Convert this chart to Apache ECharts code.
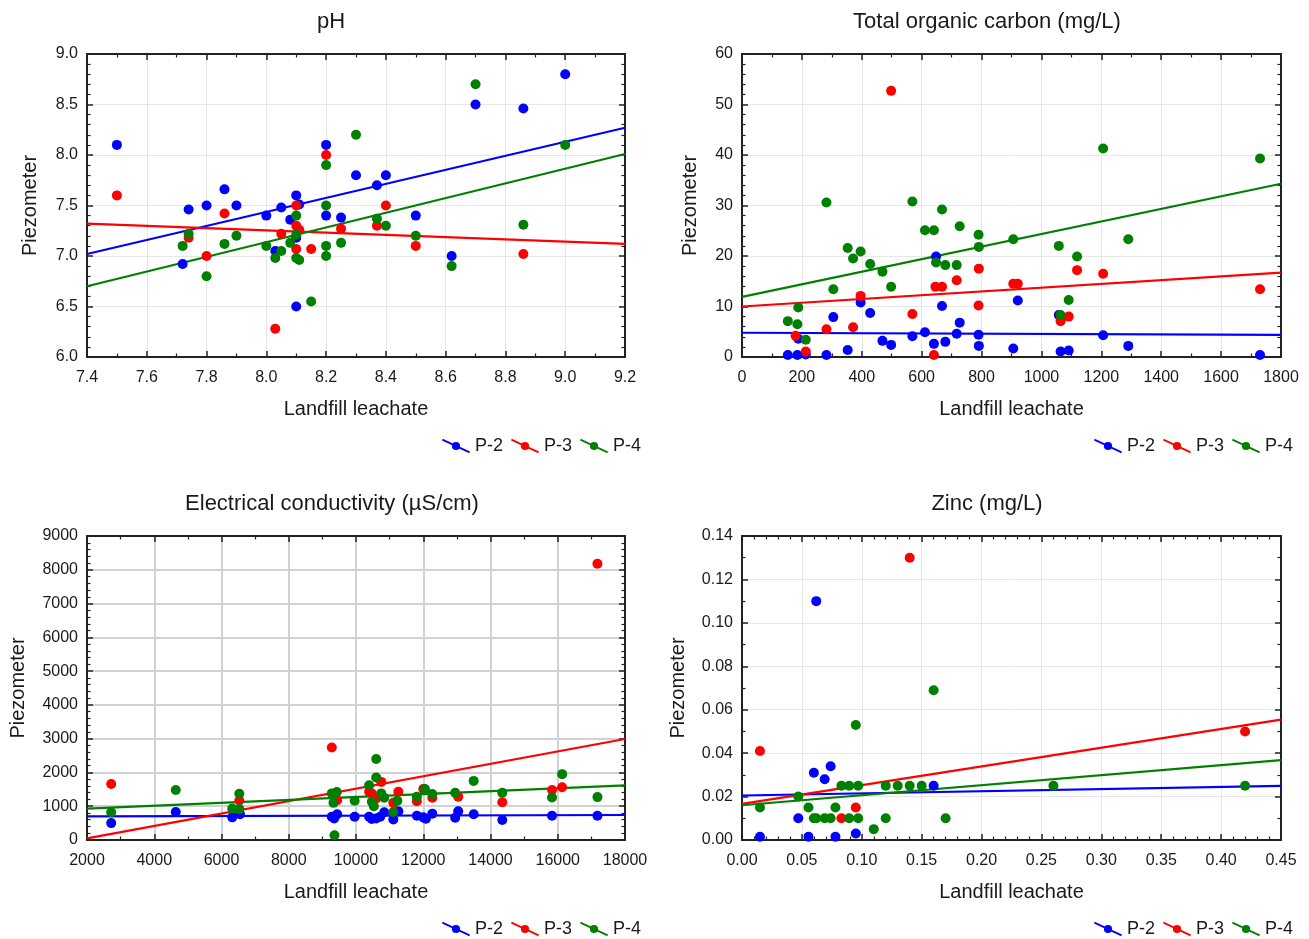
<!DOCTYPE html>
<html><head><meta charset="utf-8">
<script src="https://cdn.jsdelivr.net/npm/echarts@6/dist/echarts.min.js"></script>
<style>html,body{margin:0;padding:0;background:#fff}#c{width:1309px;height:939px}</style>
</head><body><div id="c"></div>
<script>
// ---------- DATA ----------
const seriesNames = ['P-2', 'P-3', 'P-4'];
const titles = ['pH', 'Total organic carbon (mg/L)', 'Electrical conductivity (µS/cm)', 'Zinc (mg/L)'];
const xName = 'Landfill leachate';
const yName = 'Piezometer';

const phP2 = [[7.5,8.1],[7.72,6.92],[7.74,7.46],[7.8,7.5],[7.86,7.66],[7.9,7.5],[8.0,7.4],[8.03,7.05],[8.05,7.48],[8.08,7.36],[8.1,7.6],[8.11,7.51],[8.1,7.18],[8.1,6.5],[8.2,8.1],[8.2,7.4],[8.25,7.38],[8.3,7.8],[8.37,7.7],[8.4,7.8],[8.5,7.4],[8.62,7.0],[8.7,8.5],[8.86,8.46],[9.0,8.8]];
const phP3 = [[7.5,7.6],[7.74,7.18],[7.8,7.0],[7.86,7.42],[8.03,6.28],[8.05,7.22],[8.1,7.5],[8.1,7.3],[8.11,7.26],[8.1,7.07],[8.15,7.07],[8.2,8.0],[8.25,7.27],[8.37,7.3],[8.4,7.5],[8.5,7.1],[8.86,7.02]];
const phP4 = [[7.72,7.1],[7.74,7.22],[7.8,6.8],[7.86,7.12],[7.9,7.2],[8.0,7.1],[8.03,6.98],[8.05,7.05],[8.08,7.13],[8.1,7.4],[8.1,7.21],[8.1,6.98],[8.11,6.96],[8.15,6.55],[8.2,7.9],[8.2,7.5],[8.2,7.1],[8.2,7.0],[8.25,7.13],[8.3,8.2],[8.37,7.37],[8.4,7.3],[8.5,7.2],[8.62,6.9],[8.7,8.7],[8.86,7.31],[9.0,8.1]];
const phFitP2 = [[7.4,7.02],[9.2,8.27]];
const phFitP3 = [[7.4,7.32],[9.2,7.12]];
const phFitP4 = [[7.4,6.70],[9.2,8.01]];

const tocP2 = [[153,0.4],[185,0.4],[213,0.5],[188,3.6],[282,0.4],[305,7.9],[353,1.4],[396,10.8],[428,8.7],[469,3.2],[498,2.4],[569,4.1],[611,4.9],[641,2.6],[648,19.9],[668,10.1],[679,3.0],[717,4.6],[727,6.8],[790,4.4],[791,2.2],[906,1.7],[921,11.2],[1058,8.3],[1064,1.1],[1091,1.3],[1206,4.3],[1290,2.2],[1730,0.4]];
const tocP3 = [[179,4.2],[213,1.1],[282,5.5],[371,5.9],[396,12.1],[498,52.7],[569,8.5],[641,0.4],[646,13.9],[668,13.9],[717,15.2],[790,10.2],[791,17.5],[906,14.5],[921,14.5],[1064,7.1],[1091,8.0],[1119,17.2],[1206,16.5],[1730,13.4]];
const tocP4 = [[153,7.1],[185,6.5],[188,9.8],[213,3.4],[282,30.6],[305,13.4],[353,21.6],[371,19.5],[396,20.9],[428,18.4],[469,16.9],[498,13.9],[569,30.8],[611,25.1],[641,25.1],[648,18.7],[668,29.2],[679,18.2],[717,18.2],[727,25.9],[790,24.2],[791,21.8],[906,23.3],[1058,22.0],[1064,8.3],[1091,11.3],[1119,19.9],[1206,41.3],[1290,23.3],[1730,39.3]];
const tocFitP2 = [[0,4.8],[1800,4.4]];
const tocFitP3 = [[0,10.0],[1800,16.7]];
const tocFitP4 = [[0,11.9],[1800,34.3]];

const ecP2 = [[2720,500],[4640,830],[6320,670],[6550,760],[9280,690],[9350,640],[9440,760],[9960,690],[10390,690],[10470,620],[10600,640],[10720,690],[10840,820],[11110,610],[11260,850],[11810,720],[12000,670],[12080,630],[12270,780],[12950,660],[13040,850],[13500,760],[14350,590],[15830,720],[17180,720]];
const ecP3 = [[2720,1660],[6530,1170],[9280,2740],[9440,1180],[10390,1430],[10470,1380],[10600,1230],[10750,1720],[11110,1100],[11260,1430],[11810,1150],[12000,1510],[12270,1250],[13040,1280],[14350,1120],[15830,1480],[16130,1560],[17180,8180]];
const ecP4 = [[2720,820],[4640,1480],[6320,930],[6530,1370],[6530,920],[9280,1380],[9430,1420],[9330,1100],[9360,140],[9960,1160],[10390,1620],[10470,1130],[10530,1000],[10600,2400],[10600,1850],[10750,1380],[10840,1250],[11110,830],[11230,1160],[11810,1280],[12050,1510],[12270,1360],[12950,1400],[13500,1750],[14350,1400],[15830,1260],[16130,1950],[17180,1270]];
const ecFitP2 = [[2000,700],[18000,740]];
const ecFitP3 = [[2000,50],[18000,2990]];
const ecFitP4 = [[2000,930],[18000,1620]];

const znP2 = [[0.015,0.0015],[0.047,0.01],[0.0555,0.0015],[0.060,0.031],[0.062,0.11],[0.069,0.028],[0.074,0.034],[0.078,0.0015],[0.095,0.003],[0.16,0.025]];
const znP3 = [[0.015,0.041],[0.083,0.01],[0.095,0.015],[0.14,0.13],[0.42,0.05]];
const znP4 = [[0.015,0.015],[0.047,0.02],[0.0555,0.015],[0.060,0.01],[0.062,0.01],[0.069,0.01],[0.074,0.01],[0.078,0.015],[0.083,0.025],[0.0895,0.025],[0.0895,0.01],[0.097,0.025],[0.097,0.01],[0.095,0.053],[0.110,0.005],[0.120,0.025],[0.120,0.01],[0.130,0.025],[0.140,0.025],[0.150,0.025],[0.160,0.069],[0.170,0.01],[0.260,0.025],[0.42,0.025]];
const znFitP2 = [[0,0.0205],[0.45,0.0249]];
const znFitP3 = [[0,0.0166],[0.45,0.0554]];
const znFitP4 = [[0,0.016],[0.45,0.0368]];

// ---------- LAYOUT / STYLE ----------
const COLORS = ['#0000ff', '#ff0000', '#008000'];
const FONT = "'Liberation Sans', Arial, sans-serif";
const TXT = '#1a1a1a';

const panels = [
  {grid:{left:87, top:54, width:538, height:303}, title:{x:326, y:6},
   x:{min:7.4, max:9.2, interval:0.2, minor:2, dec:1}, y:{min:6, max:9, interval:0.5, minor:5, dec:1},
   yGap:47, legend:{left:437, top:432}, grid2:false,
   pts:[phP2, phP3, phP4], fits:[phFitP2, phFitP3, phFitP4]},
  {grid:{left:742, top:54, width:539, height:303}, title:{x:982, y:6},
   x:{min:0, max:1800, interval:200, minor:2, dec:0}, y:{min:0, max:60, interval:10, minor:5, dec:0},
   yGap:42, legend:{left:1089, top:432}, grid2:false,
   pts:[tocP2, tocP3, tocP4], fits:[tocFitP2, tocFitP3, tocFitP4]},
  {grid:{left:87, top:536, width:538, height:304}, title:{x:327, y:488},
   x:{min:2000, max:18000, interval:2000, minor:2, dec:0}, y:{min:0, max:9000, interval:1000, minor:5, dec:0},
   yGap:59, legend:{left:437, top:915}, grid2:true,
   pts:[ecP2, ecP3, ecP4], fits:[ecFitP2, ecFitP3, ecFitP4]},
  {grid:{left:742, top:536, width:539, height:304}, title:{x:982, y:488},
   x:{min:0, max:0.45, interval:0.05, minor:5, dec:2}, y:{min:0, max:0.14, interval:0.02, minor:2, dec:2},
   yGap:54, legend:{left:1089, top:915}, grid2:false,
   pts:[znP2, znP3, znP4], fits:[znFitP2, znFitP3, znFitP4]}
];

const LEGEND_ICON = 'path://M0.38,-0.32 L28.38,12.68 L27.62,14.32 L-0.38,1.32 Z M9.8,7 A4.2,4.2 0 1 1 18.2,7 A4.2,4.2 0 1 1 9.8,7 Z';

const option = {
  backgroundColor: '#fff',
  animation: false,
  textStyle: {fontFamily: FONT, color: TXT},
  title: [], grid: [], xAxis: [], yAxis: [], legend: [], series: []
};

function axisBase(a, gi, pos, main, split, isY, nameGap) {
  const ax = {
    type: 'value', gridIndex: gi, position: pos,
    min: a.min, max: a.max, interval: a.interval,
    axisLine: {show: true, onZero: false, lineStyle: {color: '#222', width: 2}},
    axisTick: {show: true, inside: true, length: 6, lineStyle: {color: '#222', width: 1.5}},
    minorTick: {show: true, splitNumber: a.minor, length: 3.5, lineStyle: {color: '#222', width: 1.2}},
    axisLabel: {show: main, fontSize: 16, color: TXT, fontFamily: FONT, margin: isY ? 9 : 13,
      formatter: v => Number(v).toFixed(a.dec), showMinLabel: true, showMaxLabel: true},
    splitLine: {show: main, lineStyle: {color: split ? '#d2d2d2' : '#e6e6e6', width: split ? 2 : 1}},
    z: 0
  };
  if (main) {
    ax.name = isY ? yName : xName;
    ax.nameLocation = 'middle';
    ax.nameGap = nameGap;
    ax.nameTextStyle = {fontSize: 20, color: TXT, fontFamily: FONT};
  }
  return ax;
}

panels.forEach((p, i) => {
  option.title.push({text: titles[i], left: p.title.x, top: p.title.y, textAlign: 'center',
    textStyle: {fontSize: 22, fontWeight: 'normal', color: TXT, fontFamily: FONT}});
  option.grid.push(Object.assign({containLabel: false}, p.grid));
  const xi = option.xAxis.length, yi = option.yAxis.length;
  option.xAxis.push(axisBase(p.x, i, 'bottom', true, p.grid2, false, 42));
  option.xAxis.push(axisBase(p.x, i, 'top', false, p.grid2, false, 0));
  option.yAxis.push(axisBase(p.y, i, 'left', true, p.grid2, true, p.yGap));
  option.yAxis.push(axisBase(p.y, i, 'right', false, p.grid2, true, 0));
  option.legend.push({
    left: p.legend.left, top: p.legend.top, orient: 'horizontal',
    itemWidth: 28, itemHeight: 15, itemGap: 8,
    textStyle: {fontSize: 18, color: TXT, fontFamily: FONT},
    selectedMode: false,
    data: seriesNames.map((n, k) => ({name: n, icon: LEGEND_ICON, itemStyle: {color: COLORS[k]}}))
  });
  p.fits.forEach((f, k) => {
    option.series.push({type: 'line', name: seriesNames[k] + ' fit' + i, xAxisIndex: xi, yAxisIndex: yi,
      data: f, showSymbol: false, symbol: 'none', silent: true, clip: true,
      lineStyle: {color: COLORS[k], width: 2.2}, z: 2});
  });
  p.pts.forEach((d, k) => {
    option.series.push({type: 'scatter', name: seriesNames[k], xAxisIndex: xi, yAxisIndex: yi,
      data: d, symbol: 'circle', symbolSize: 10, itemStyle: {color: COLORS[k], opacity: 1}, z: 3 + k});
  });
});

const chart = echarts.init(document.getElementById('c'), null, {renderer: 'canvas'});
chart.setOption(option);
</script>
</body></html>
